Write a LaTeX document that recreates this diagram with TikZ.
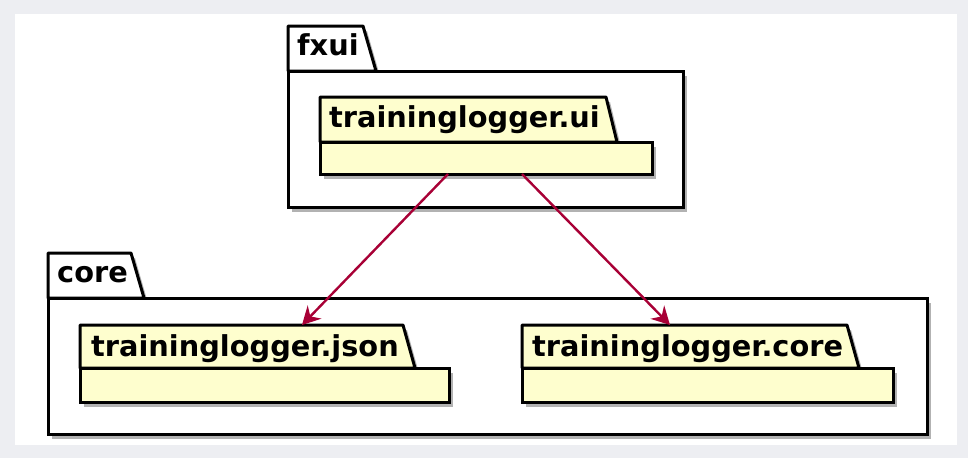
\documentclass[tikz,border=0pt]{standalone}
\usepackage{xcolor}
\usepackage{fontspec}
\setmainfont{DejaVu Sans}
\usepackage{tikz}
\usetikzlibrary{shadows,arrows.meta,positioning}
\definecolor{pkgyellow}{HTML}{FEFECE}
\definecolor{deparrow}{HTML}{A80036}
\definecolor{framegray}{HTML}{EDEEF2}
\tikzset{
    pkgshadow/.style={drop shadow={shadow xshift=4pt, shadow yshift=-5pt, opacity=0.4, fill=black!75}},
    pkgbody/.style={draw, rectangle, line width=3pt, outer sep=0pt, inner sep=0pt, anchor=north west, pkgshadow},
    pkgtab/.style={draw, line width=3pt, line join=round, pkgshadow},
    pkglabel/.style={anchor=base west, inner sep=0pt, font=\fontsize{28.8pt}{30pt}\selectfont\bfseries},
    dep/.style={draw=deparrow, line width=2.4pt, -{Stealth[length=18pt,width=19pt,inset=6pt]}}
}

\begin{document}
\begin{tikzpicture}[x=1pt, y=-1pt]
        \useasboundingbox[fill=framegray] (0,0) rectangle (968,458);
        \fill[white] (15,14) rectangle (957,445);

        \path[pkgtab, fill=white] (288,71) -- ++(0,-45) -- ++(75,0) -- ++(13,45) -- cycle;
        \node[pkgbody, fill=white, minimum width=395pt, minimum height=136pt] (fxuibody) at (288,71) {};
        \node[pkglabel] (fxuilabel) at ([shift={(9,-16)}]fxuibody.north west) {fxui};

        \path[pkgtab, fill=pkgyellow] (320,142) -- ++(0,-45) -- ++(286,0) -- ++(11,45) -- cycle;
        \node[pkgbody, fill=pkgyellow, minimum width=332pt, minimum height=32pt] (uibody) at (320,142) {};
        \node[pkglabel] (uilabel) at ([shift={(9,-15)}]uibody.north west) {traininglogger.ui};

        \path[pkgtab, fill=white] (48,298) -- ++(0,-45) -- ++(83,0) -- ++(13,45) -- cycle;
        \node[pkgbody, fill=white, minimum width=879pt, minimum height=136pt] (corebody) at (48,298) {};
        \node[pkglabel] (corelabel) at ([shift={(9,-16)}]corebody.north west) {core};

        \path[pkgtab, fill=pkgyellow] (80,368) -- ++(0,-43) -- ++(323,0) -- ++(12,43) -- cycle;
        \node[pkgbody, fill=pkgyellow, minimum width=369pt, minimum height=34pt] (jsonbody) at (80,368) {};
        \node[pkglabel] (jsonlabel) at ([shift={(11,-12)}]jsonbody.north west) {traininglogger.json};

        \path[pkgtab, fill=pkgyellow] (522,368) -- ++(0,-43) -- ++(325,0) -- ++(12,43) -- cycle;
        \node[pkgbody, fill=pkgyellow, minimum width=371pt, minimum height=34pt] (tcorebody) at (522,368) {};
        \node[pkglabel] (tcorelabel) at ([shift={(10,-12)}]tcorebody.north west) {traininglogger.core};

        \draw[dep] ([xshift=128pt]uibody.south west) -- ([shift={(222,-43)}]jsonbody.north west);
        \draw[dep] ([xshift=202pt]uibody.south west) -- ([shift={(148,-43)}]tcorebody.north west);
    \end{tikzpicture}
\end{document}
